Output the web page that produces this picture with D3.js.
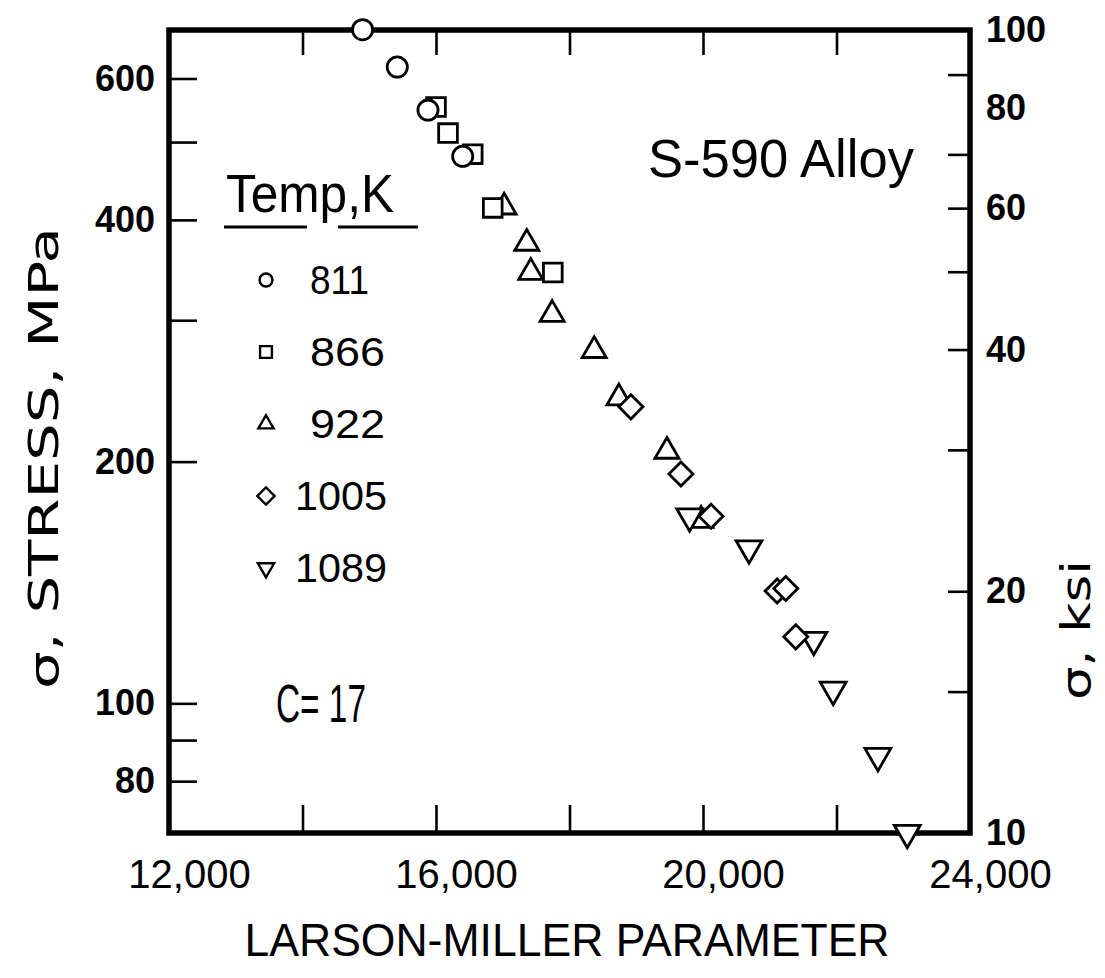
<!DOCTYPE html>
<html>
<head>
<meta charset="utf-8">
<script src="https://cdn.jsdelivr.net/npm/d3@7"></script>
<style>
body { margin: 0; background: #fff; }
svg { display: block; }
.mark { fill: #fff; stroke: #000; stroke-width: 2.8; }
.axis text { font-family: "Liberation Sans", sans-serif; fill: #000; }
.axis line { stroke: #000; stroke-width: 2.6; }
.axis path { display: none; }
</style>
</head>
<body>
<svg></svg>
<script>
// rupture data, Larson-Miller parameter (C = 17) against stress in MPa
const temps = ["811", "866", "922", "1005", "1089"]
const lmp811 = [14900, 15420, 15880, 16400]
const mpa811 = [690, 620, 548, 480]
const lmp866 = [16000, 16180, 16550, 16850, 17750]
const mpa866 = [553, 513, 483, 414, 344]
const lmp922 = [17020, 17360, 17420, 17740, 18370, 18740, 19460, 19970]
const mpa922 = [415, 374, 344, 305, 275, 240, 206, 169]
const lmp1005 = [18920, 19670, 20120, 21110, 21240, 21390]
const mpa1005 = [234, 193, 171, 138, 139, 121]
const lmp1089 = [19800, 20690, 21660, 21950, 22620, 23060]
const mpa1089 = [171, 156, 120, 104, 86, 69]

// axis ticks
const lmpTicks = [12000, 14000, 16000, 18000, 20000, 22000, 24000]
const lmpLabels = [12000, 16000, 20000, 24000]
const mpaTicks = [600, 500, 400, 300, 200, 100, 90, 80]
const mpaLabels = [600, 400, 200, 100, 80]
const ksiTicks = [88, 70, 60, 50, 40, 30, 20, 15]
const ksiLabels = [100, 80, 60, 40, 20, 10]

const KSI = 6.895 // MPa per ksi

const series = [
	{ temp: temps[0], x: lmp811, y: mpa811 },
	{ temp: temps[1], x: lmp866, y: mpa866 },
	{ temp: temps[2], x: lmp922, y: mpa922 },
	{ temp: temps[3], x: lmp1005, y: mpa1005 },
	{ temp: temps[4], x: lmp1089, y: mpa1089 },
]

const svg = d3.select("svg").attr("width", 1105).attr("height", 978)

const fLeft = 169, fRight = 970, fTop = 30, fBottom = 833

const x = d3.scaleLinear().domain([12000, 24000]).range([fLeft, fRight])
const yKsi = d3.scaleLog().domain([10, 100]).range([fBottom, fTop])
const yMpa = d3.scaleLog().domain([10 * KSI, 100 * KSI]).range([fBottom, fTop])

// marker shapes: circle, square, triangle, diamond, inverted triangle
const shapes = [d3.symbolCircle, d3.symbolSquare, d3.symbolTriangle, d3.symbolSquare, d3.symbolTriangle]
const turns = [0, 0, 0, 45, 180]
const plotSizes = [320, 350, 250, 290, 290]
const keySizes = [130, 140, 100, 150, 115]

const symbolPath = (i, size) => d3.symbol().type(shapes[i]).size(size)()

// the lettering uses a narrow "1"
const numWidth = s => s.split("").reduce((w, c) => w + (c === "1" ? 17 : 25), 0)

// ---- axes (ticks point inward, frame drawn separately)
const fmt = d3.format(",")

svg.append("g")
	.attr("class", "axis")
	.attr("transform", `translate(0,${fBottom})`)
	.call(d3.axisBottom(x).tickValues(lmpTicks).tickSizeInner(-28).tickSizeOuter(0).tickPadding(27)
		.tickFormat(d => lmpLabels.includes(d) ? fmt(d) : ""))
	.selectAll("text")
	.attr("dx", 20)
	.style("font-size", "40px")

svg.append("g")
	.attr("class", "axis")
	.attr("transform", `translate(0,${fTop})`)
	.call(d3.axisTop(x).tickValues(lmpTicks.slice(1, -1)).tickSizeInner(-25).tickSizeOuter(0).tickFormat(""))

svg.append("g")
	.attr("class", "axis")
	.attr("transform", `translate(${fLeft},0)`)
	.call(d3.axisLeft(yMpa).tickValues(mpaTicks).tickSizeInner(-28).tickSizeOuter(0).tickPadding(14)
		.tickFormat(d => mpaLabels.includes(d) ? d : ""))
	.selectAll("text")
	.style("font-size", "36px")
	.style("font-weight", "bold")

svg.append("g")
	.attr("class", "axis")
	.attr("transform", `translate(${fRight},0)`)
	.call(d3.axisRight(yKsi).tickValues(ksiTicks).tickSizeInner(-22).tickSizeOuter(0).tickFormat(""))

svg.append("g")
	.attr("class", "axis")
	.attr("transform", `translate(${fRight},0)`)
	.call(d3.axisRight(yKsi).tickValues(ksiLabels).tickSize(0).tickPadding(16))
	.selectAll("text")
	.style("font-size", "36px")
	.style("font-weight", "bold")

// frame
svg.append("rect")
	.attr("x", fLeft)
	.attr("y", fTop)
	.attr("width", fRight - fLeft)
	.attr("height", fBottom - fTop)
	.attr("fill", "none")
	.attr("stroke", "#000")
	.attr("stroke-width", 5.5)

// ---- data points (white fill so overlaps hide the mark beneath)
const drawOrder = [2, 4, 3, 1, 0]
drawOrder.forEach(si => {
	const s = series[si]
	svg.append("g")
		.selectAll("path")
		.data(s.x.map((v, j) => [v, s.y[j]]))
		.enter()
		.append("path")
		.attr("class", "mark")
		.attr("d", symbolPath(si, plotSizes[si]))
		.attr("transform", d => `translate(${x(d[0])},${yMpa(d[1])}) rotate(${turns[si]})`)
})

// ---- texts
const addText = (txt, px, py, size, len, opts = {}) => {
	const t = svg.append("text")
		.attr("x", px)
		.attr("y", py)
		.attr("text-anchor", opts.anchor || "start")
		.style("font-family", opts.family || "'Liberation Sans Narrow', 'Liberation Sans', sans-serif")
		.style("font-size", size + "px")
		.style("font-weight", opts.weight || "normal")
		.text(txt)
	if (len) t.attr("textLength", len).attr("lengthAdjust", "spacingAndGlyphs")
	if (opts.rotate) t.attr("transform", `rotate(${opts.rotate},${px},${py})`)
	return t
}

addText("S-590 Alloy", 648, 177, 54, 266)
addText("C= 17", 276, 722, 54, 90)

// legend
addText("Temp,K", 226, 212, 54, 168)
svg.append("line").attr("x1", 224).attr("x2", 307).attr("y1", 227).attr("y2", 227)
	.attr("stroke", "#000").attr("stroke-width", 3)
svg.append("line").attr("x1", 338).attr("x2", 418).attr("y1", 227).attr("y2", 227)
	.attr("stroke", "#000").attr("stroke-width", 3)

const key = svg.append("g")
	.selectAll("g")
	.data(series)
	.enter()
	.append("g")
	.attr("transform", (d, i) => `translate(0,${280 + i * 72})`)

key.append("path")
	.attr("class", "mark")
	.attr("d", (d, i) => symbolPath(i, keySizes[i]))
	.attr("transform", (d, i) => `translate(266,0) rotate(${turns[i]})`)
	.style("stroke-width", 2.4)

key.append("text")
	.attr("x", d => d.temp.length > 3 ? 295 : 310)
	.attr("y", 14)
	.style("font-family", "'Liberation Sans', sans-serif")
	.style("font-size", "40px")
	.attr("textLength", d => numWidth(d.temp))
	.attr("lengthAdjust", "spacingAndGlyphs")
	.text(d => d.temp)

// axis titles
addText("LARSON-MILLER PARAMETER", 567, 956, 46, 645, { anchor: "middle", family: "'Liberation Sans', sans-serif" })
addText("σ, STRESS, MPa", 58, 458, 40, 462, { anchor: "middle", rotate: -90, family: "'DejaVu Sans', sans-serif" })
addText("σ, ksi", 1090, 630, 40, 140, { anchor: "middle", rotate: -90, family: "'DejaVu Sans', sans-serif" })
</script>
</body>
</html>
